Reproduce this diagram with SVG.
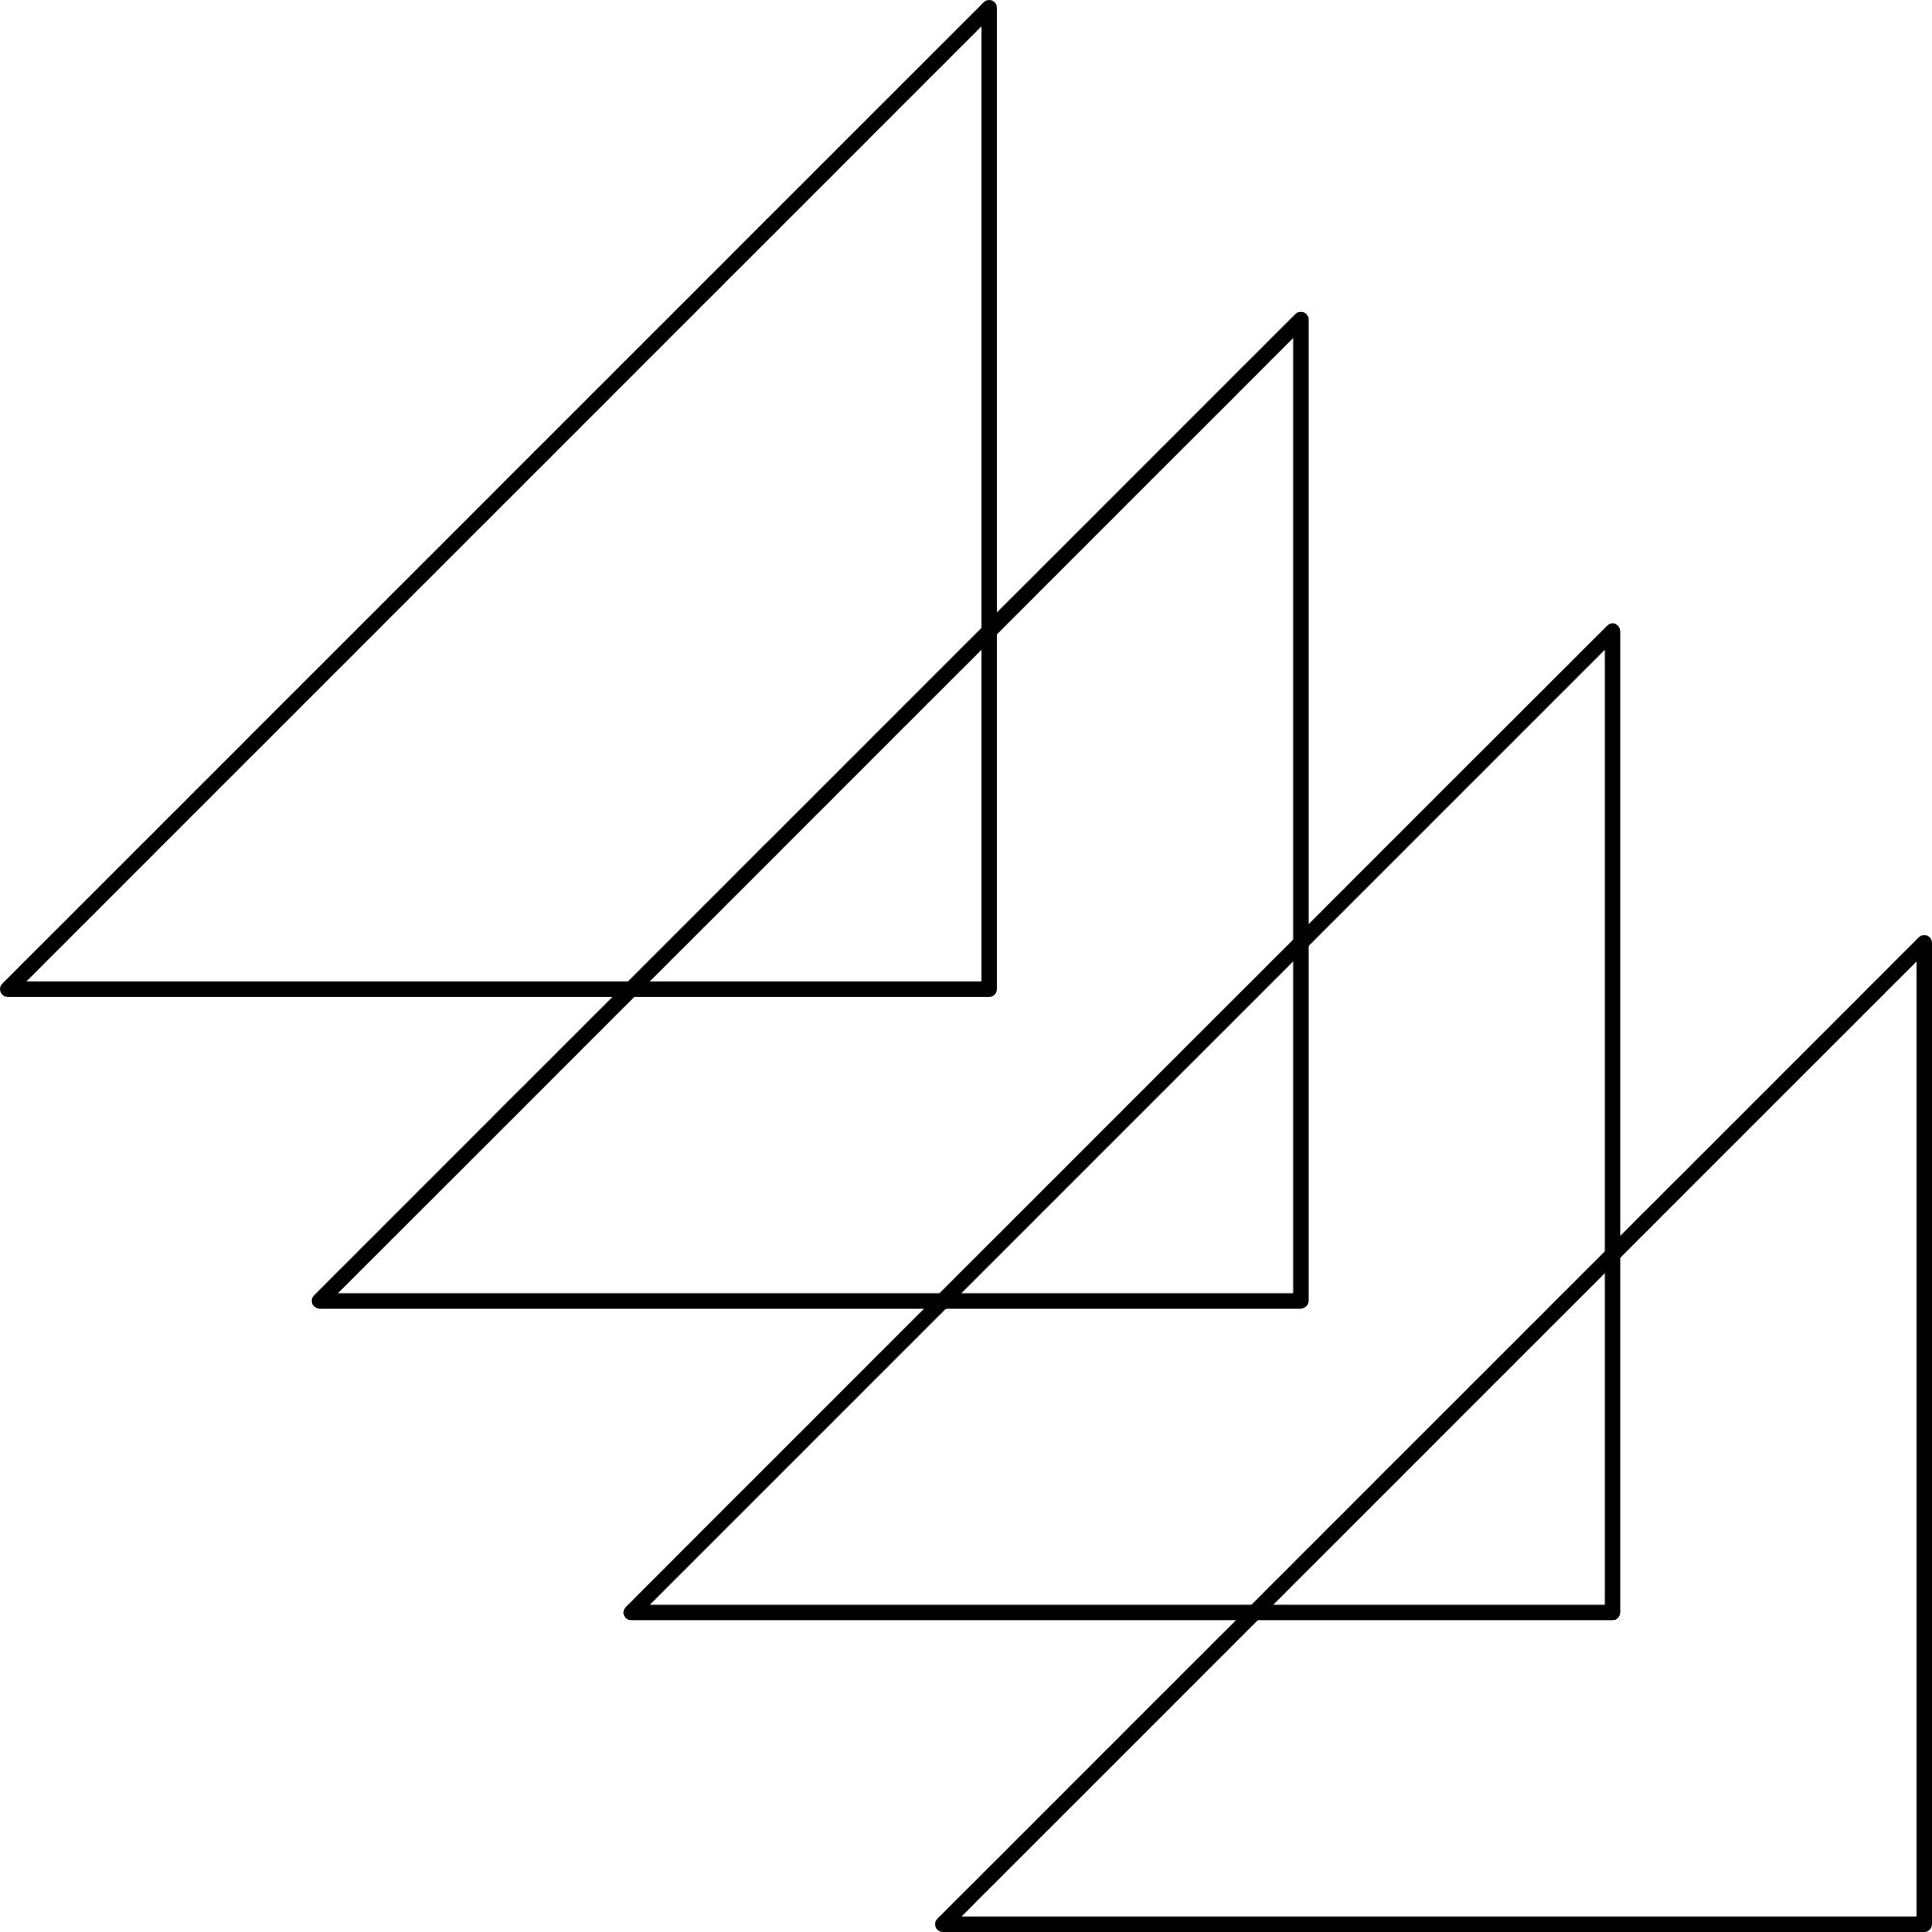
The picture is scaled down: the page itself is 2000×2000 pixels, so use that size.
<svg xmlns="http://www.w3.org/2000/svg" width="2000" height="2000" viewBox="0 0 2000 2000">
<style>
.tri{fill:none;stroke:#000;stroke-width:16;stroke-linejoin:round;stroke-linecap:round}
</style>
<rect width="2000" height="2000" fill="#fff"/>
<g id="triangle1"><path class="tri" d="M8,1024 L1024,8 L1024,1024 Z"/></g>
<g id="triangle2"><path class="tri" d="M330.67,1346.67 L1346.67,330.67 L1346.67,1346.67 Z"/></g>
<g id="triangle3"><path class="tri" d="M653.33,1669.33 L1669.33,653.33 L1669.33,1669.33 Z"/></g>
<g id="triangle4"><path class="tri" d="M976,1992 L1992,976 L1992,1992 Z"/></g>
<g id="connectors"></g>
</svg>
